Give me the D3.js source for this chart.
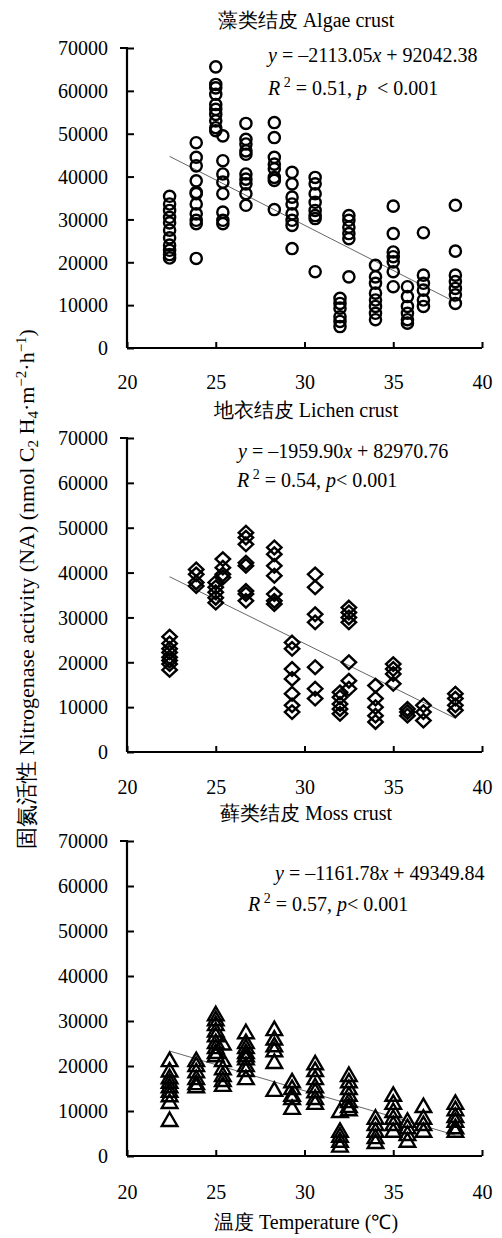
<!DOCTYPE html>
<html><head><meta charset="utf-8">
<script src="https://cdn.jsdelivr.net/npm/d3@7"></script>
<style>body{margin:0;background:#fff}svg{display:block}text{font-family:"Liberation Serif","Times New Roman",serif;fill:#000}</style>
</head><body>
<svg id="c" width="502" height="1238"></svg>
<script>
// ---- data ----
const temps = [22.4, 23.9, 25.0, 25.4, 26.7, 28.3, 29.3, 30.6, 32.0, 32.5, 34.0, 35.0, 35.8, 36.7, 38.5];
const algaeNA = [
 [35400,33600,32100,30500,29200,27500,25700,24000,22800,21800,21000],
 [47900,44500,42500,39000,36300,36000,33600,31300,29800,29000,20900],
 [65600,61500,60700,59200,56800,55700,54500,53000,51400,50700],
 [49500,43700,40600,38700,36000,31700,29800,29000],
 [52400,48700,47600,46000,45200,40600,39400,38300,36000,33300],
 [52600,49100,44500,42900,41800,39800,39100,32300],
 [41000,38300,35200,33600,31300,29800,28600,23200],
 [39800,38300,36000,34000,32100,30900,30200,17800],
 [11600,10400,9300,7300,6200,5000],
 [30900,29800,28200,26700,25500,16600],
 [19300,16600,15100,12800,11200,9700,8100,6600],
 [33100,26700,22400,21300,20100,17800,14300],
 [14300,12000,9700,8100,6600,5800],
 [26900,17000,15100,13500,11200,9700],
 [33300,22600,17000,15500,13900,12400,10400]
];
const lichenNA = [
 [25700,24200,23000,22200,21100,20400,19600,18300],
 [40700,39600,37800,37000],
 [37800,36700,35600,34400,33300],
 [43000,41100,39600,38900],
 [48900,47800,46300,42200,41500,35900,35200,33700],
 [45600,44100,41500,39300,35200,33700,33000],
 [24400,23000,18500,16300,13000,10400,8900],
 [39600,36700,30700,28900,18900,14100,11900],
 [13300,12200,10700,9600,8500],
 [32200,31100,30000,28900,20000,15900,14100],
 [14800,11900,10000,8100,6700],
 [19600,18500,17400,15200],
 [9600,8900,8100],
 [10400,8900,7000],
 [13000,11900,10400,9300]
];
const mossNA = [
 [21300,19000,17500,16500,15500,14500,13500,12000,8000],
 [21300,20200,18800,17300,16200,15500],
 [31500,30400,29300,27900,26800,25300,24200,23100,22400],
 [25000,21300,19500,18000,16900,15800],
 [27500,25300,24200,23100,22400,21700,20200,19100,17300],
 [28200,26100,24600,23500,20900,14700],
 [16600,15100,13600,12900,10700],
 [20600,19100,17300,15500,14400,12900,11800],
 [10000,5600,4500,3400,2300],
 [18000,16600,15100,13600,12200,11100,10400],
 [8500,7100,5600,4200,3100],
 [13600,11800,10000,8500,7100,5600],
 [7800,6400,4900,3400],
 [11100,8500,7100,5600],
 [11800,10400,8900,7800,6400,5600]
];
const titles = ["藻类结皮 Algae crust", "地衣结皮 Lichen crust", "藓类结皮 Moss crust"];
const slopes = [-2113.05, -1959.90, -1161.78];
const intercepts = [92042.38, 82970.76, 49349.84];
const slopeText = ["2113.05", "1959.90", "1161.78"];
const interceptText = ["92042.38", "82970.76", "49349.84"];
const r2Text = ["0.51", "0.54", "0.57"];
const yTicks = [0, 10000, 20000, 30000, 40000, 50000, 60000, 70000];
const xTicks = [20, 25, 30, 35, 40];
const markers = ["circle", "diamond", "triangle"];

// ---- layout ----
const svg = d3.select("#c");
const panels = [
 {top:48, bottom:348, title:27, xlab:389, eq:62, r2:95, eqX:268, r2X:268, sp:"  "},
 {top:438, bottom:752, title:417, xlab:794, eq:458, r2:487, eqX:238, r2X:237, sp:""},
 {top:841, bottom:1156, title:820, xlab:1199, eq:880, r2:911, eqX:275, r2X:248, sp:""}
];
const x0 = 127, x1 = 482;
const datasets = [algaeNA, lichenNA, mossNA];

function markerPath(type){
  if(type==="diamond") return "M0,-6.8L7.2,0L0,6.8L-7.2,0Z";
  if(type==="triangle") return "M0,-7.5L7.8,6L-7.8,6Z";
  return null;
}

panels.forEach((p,i)=>{
  const x = d3.scaleLinear().domain([20,40]).range([x0,x1]);
  const y = d3.scaleLinear().domain([0,70000]).range([p.bottom,p.top]);
  const g = svg.append("g");

  g.append("text").attr("x",306).attr("y",p.title).attr("text-anchor","middle")
   .style("font-size","20px").text(titles[i]);

  const ya = g.append("g").attr("transform",`translate(${x0},0)`)
    .call(d3.axisLeft(y).tickValues(yTicks).tickSize(-7).tickPadding(18).tickFormat(d3.format("d")));
  const xa = g.append("g").attr("transform",`translate(0,${p.bottom})`)
    .call(d3.axisBottom(x).tickValues(xTicks).tickSize(-6).tickPadding(0).tickFormat(d3.format("d")));
  [ya,xa].forEach(a=>{
    a.select(".domain").attr("stroke","#000").attr("stroke-width",2.2);
    a.selectAll(".tick line").attr("stroke","#000").attr("stroke-width",2);
    a.selectAll(".tick text").style("font-size","20px").style("font-family","Liberation Serif, serif").attr("fill","#000");
  });
  ya.select(".domain").attr("d",`M-7,${p.top}H0V${p.bottom}`);
  xa.select(".domain").attr("d",`M${x0},0H${x1}`);
  xa.selectAll(".tick text").attr("y",null).attr("dy",null).attr("transform",`translate(0,${p.xlab-p.bottom})`);
  ya.selectAll(".tick text").attr("x",-19).attr("dy","0.34em");

  const xmin = d3.min(temps), xmax = d3.max(temps);
  g.append("line")
   .attr("x1",x(xmin)).attr("y1",y(slopes[i]*xmin+intercepts[i]))
   .attr("x2",x(xmax)).attr("y2",y(slopes[i]*xmax+intercepts[i]))
   .attr("stroke","#555").attr("stroke-width",0.9);

  const pts = [];
  datasets[i].forEach((arr,k)=>arr.forEach(v=>pts.push({t:temps[k],v})));
  const m = markers[i];
  if(m==="circle"){
    g.selectAll("circle.pt").data(pts).join("circle").attr("class","pt")
     .attr("cx",d=>x(d.t)).attr("cy",d=>y(d.v)).attr("r",5.6)
     .attr("fill","none").attr("stroke","#000").attr("stroke-width",2.4);
  } else {
    g.selectAll("path.pt").data(pts).join("path").attr("class","pt")
     .attr("d",markerPath(m)).attr("transform",d=>`translate(${x(d.t)},${y(d.v)})`)
     .attr("fill","none").attr("stroke","#000").attr("stroke-width",2.4).attr("stroke-linejoin","miter");
  }

  const eq = g.append("text").attr("x",p.eqX).attr("y",p.eq).style("font-size","20px");
  eq.append("tspan").style("font-style","italic").text("y");
  eq.append("tspan").text(" = –"+slopeText[i]);
  eq.append("tspan").style("font-style","italic").text("x");
  eq.append("tspan").text(" + "+interceptText[i]);
  const r2 = g.append("text").attr("x",p.r2X).attr("y",p.r2).style("font-size","20px").attr("xml:space","preserve");
  r2.append("tspan").style("font-style","italic").text("R");
  r2.append("tspan").attr("dy",-8).style("font-size","14px").text(" 2");
  r2.append("tspan").attr("dy",8).text(" = "+r2Text[i]+", ");
  r2.append("tspan").style("font-style","italic").text("p");
  r2.append("tspan").text(p.sp+"< 0.001");
});

svg.append("text").attr("x",306).attr("y",1229).attr("text-anchor","middle")
  .style("font-size","20px").text("温度 Temperature (℃)");
const yl = svg.append("text").attr("transform","translate(34,589) rotate(-90)")
  .attr("text-anchor","middle").style("font-size","22px");
yl.append("tspan").text("固氮活性 Nitrogenase activity (NA) (nmol C");
yl.append("tspan").attr("dy",4).style("font-size","15px").text("2");
yl.append("tspan").attr("dy",-4).text(" H");
yl.append("tspan").attr("dy",4).style("font-size","15px").text("4");
yl.append("tspan").attr("dy",-4).text("·m");
yl.append("tspan").attr("dy",-8).style("font-size","15px").text("−2");
yl.append("tspan").attr("dy",8).text("·h");
yl.append("tspan").attr("dy",-8).style("font-size","15px").text("−1");
yl.append("tspan").attr("dy",8).text(")");
</script>
</body></html>
